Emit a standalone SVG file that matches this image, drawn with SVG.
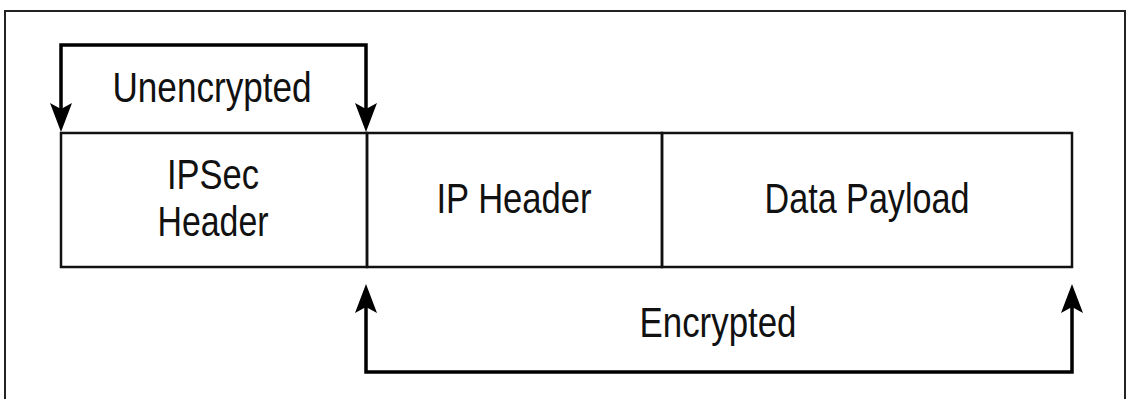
<svg xmlns="http://www.w3.org/2000/svg" width="1126" height="399" viewBox="0 0 1126 399">
<style>
.t{font-family:"Liberation Sans",Arial,sans-serif;font-size:42px;fill:#111;text-anchor:middle}
.box{fill:none;stroke:#111;stroke-width:2.5}
.con{fill:none;stroke:#000;stroke-width:3.5}
.ah{fill:#000}
</style>
<rect x="0" y="0" width="1126" height="399" fill="#fff"/>
<rect id="frame" x="5" y="11" width="1120" height="400" fill="none" stroke="#222" stroke-width="2"/>
<g id="ipsec-header">
<rect class="box" x="61" y="133" width="306" height="134"/>
<text class="t" x="213" y="189" textLength="92" lengthAdjust="spacingAndGlyphs">IPSec</text>
<text class="t" x="213" y="236" textLength="111" lengthAdjust="spacingAndGlyphs">Header</text>
</g>
<g id="ip-header">
<rect class="box" x="367" y="133" width="295" height="134"/>
<text class="t" x="514" y="213" textLength="155" lengthAdjust="spacingAndGlyphs">IP Header</text>
</g>
<g id="data-payload">
<rect class="box" x="662" y="133" width="410" height="134"/>
<text class="t" x="867" y="213" textLength="205" lengthAdjust="spacingAndGlyphs">Data Payload</text>
</g>
<g id="connectors">
<path class="con" d="M61,112 V45 H366 V112"/>
<polygon class="ah" points="50,103 61,132 72,103 61,109"/>
<polygon class="ah" points="355,103 366,132 377,103 366,109"/>
<path class="con" d="M366,305 V372 H1072 V305"/>
<polygon class="ah" points="355,313 366,284 377,313 366,307"/>
<polygon class="ah" points="1061,313 1072,284 1083,313 1072,307"/>
<text class="t" x="212" y="102" textLength="199" lengthAdjust="spacingAndGlyphs">Unencrypted</text>
<text class="t" x="718" y="337" textLength="157" lengthAdjust="spacingAndGlyphs">Encrypted</text>
</g>
</svg>
